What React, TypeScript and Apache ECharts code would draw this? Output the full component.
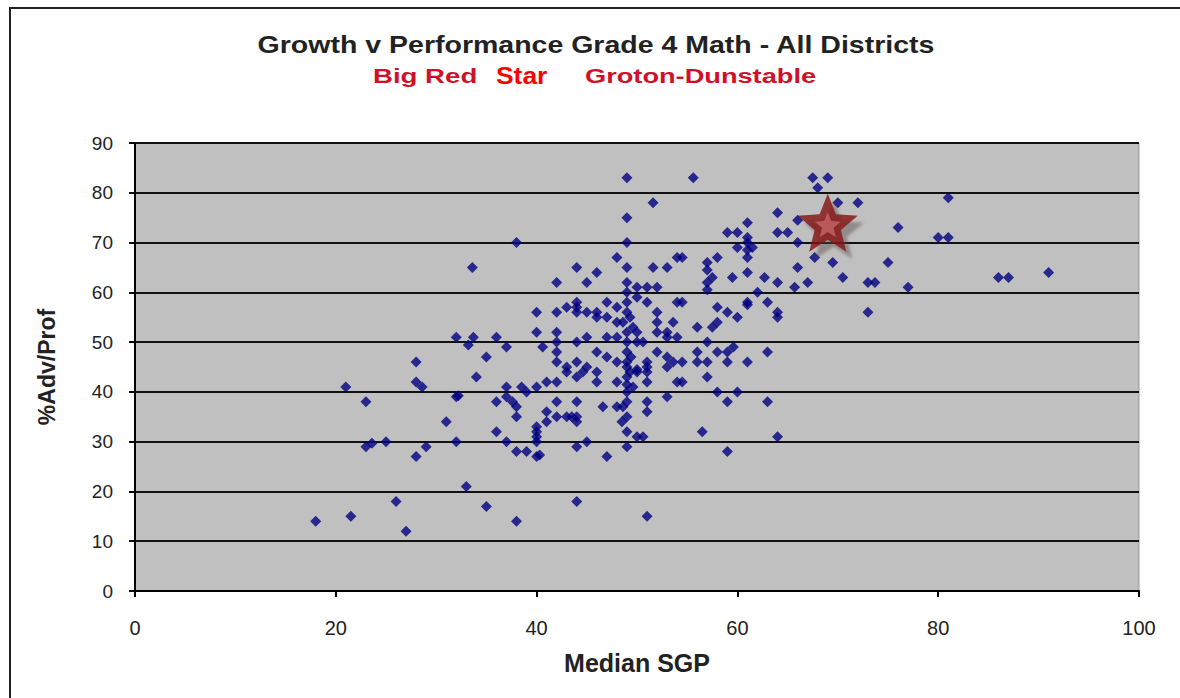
import React, { useEffect, useRef } from "react";
import * as echarts from "echarts";

// [Median SGP, % Advanced/Proficient] for each district
const districts: [number, number][] = [
  [18, 14], [21.5, 15], [27, 12], [26, 18], [35, 17], [38, 14], [44, 18], [51, 15], [33, 21],
  [21, 41], [23, 38], [23, 29], [23.6, 29.7], [25, 30], [28, 46], [28, 42], [28.6, 41], [28, 27], [29, 29],
  [31, 34], [32, 39], [32.2, 39.2], [32, 30], [32, 51], [33.7, 51], [33.2, 49.4], [33.6, 65], [34, 43],
  [35, 47], [36, 51], [36, 38], [36, 32], [37, 49], [38, 70],
  [37, 41], [38.5, 41], [39, 40], [40, 41], [37, 39], [37.6, 38], [38, 37], [38, 35], [40, 33], [41, 34],
  [40, 32], [40, 31], [40, 30], [37, 30], [38, 28], [39, 28], [40, 27], [40.3, 27.3],
  [40, 56], [40, 52], [40.6, 49], [42, 50], [42, 48], [41, 42], [42, 42], [42, 38], [41, 36], [42, 35],
  [43, 35], [43.5, 35], [44, 35], [44, 34],
  [48, 67], [54, 67], [44, 65], [46, 64], [49, 65], [51.6, 65], [53, 65], [42, 62], [45, 62], [49, 62],
  [50, 61], [51, 61], [52, 61], [50, 59], [51, 58], [54, 58],
  [42, 56], [43, 57], [44, 57], [44, 58], [44, 56], [45, 56], [46, 55], [46, 56], [47, 58], [48, 57],
  [49, 56], [47, 55], [48, 54], [48.6, 54], [49.6, 53], [50, 52], [52, 56], [52, 54], [53, 52], [53.6, 54], [42, 52],
  [44, 50], [45, 51], [47, 51], [48, 51], [49, 50], [50, 50], [50.6, 50], [52, 52], [53, 51], [54, 51],
  [46, 48], [47, 47], [48, 46], [42, 46], [43, 45], [44, 46], [44.6, 44], [45, 45], [46, 44], [43, 44],
  [49, 48], [49, 46], [50, 44], [51, 46], [51, 44], [52, 48], [53, 47], [53, 45], [53.6, 46], [51, 45], [49, 45],
  [44, 43], [46, 42], [48, 42], [49, 43], [49.6, 41], [50, 44.5], [51, 42], [54, 42], [53, 39],
  [44, 38], [46.6, 37], [48, 37], [48.6, 37], [49, 38], [49, 35], [48.5, 34], [51, 38], [51, 36],
  [49, 32], [50, 31], [50.6, 31], [44, 29], [45, 30], [49, 29], [47, 27],
  [49, 60], [49, 58], [49.3, 55], [49, 52], [49.4, 47], [49.3, 44], [49, 40], [49, 41.5],
  [49, 83], [55.6, 83], [51.6, 78], [49, 75], [49, 70],
  [67.5, 83], [69, 83], [68, 81], [70, 78], [72, 78], [64, 76], [66, 74.5], [61, 74], [59, 72], [60, 72],
  [61, 71], [61, 70], [64, 72], [65, 72], [66, 70], [60, 69], [61, 68.5], [61.5, 69], [61, 67], [54.5, 67],
  [57, 66], [58, 67], [67.7, 67], [69.5, 66], [57, 64.5], [57.5, 63], [66, 65], [61, 64], [59.5, 63], [62.7, 63],
  [64, 62], [65.7, 61], [67, 62], [70.5, 63], [73, 62], [73.7, 62], [57, 62], [57, 60.5], [62, 60], [61, 58],
  [61, 57.5], [63, 58], [64, 56], [64, 55], [58, 57], [59, 56], [60, 55], [58, 54], [57.5, 53], [56, 53],
  [57, 50], [54.5, 58],
  [58, 48], [59, 48], [59.6, 49], [59, 46], [56, 48], [56, 46], [57, 46], [63, 48], [61, 46], [57, 43],
  [54.5, 46], [54.5, 42], [58, 40], [60, 40], [59, 38], [63, 38], [56.5, 32], [64, 31], [59, 28],
  [81, 79], [76, 73], [80, 71], [81, 71], [75, 66], [77, 61], [86, 63], [87, 63], [91, 64], [73, 56],
];

// Groton-Dunstable, highlighted with the big red star
const grotonDunstable: [number, number][] = [[69, 74]];

const xTicks = { min: 0, max: 100, interval: 20 };
const yTicks = { min: 0, max: 90, interval: 10 };

const titleText = "Growth v Performance Grade 4 Math - All Districts";
const subtitleParts = ["Big Red", "Star", "Groton-Dunstable"];
const xAxisName = "Median SGP";
const yAxisName = "%Adv/Prof";

const STAR =
  "path://M50 0 L62.93 32.2 L97.55 34.55 L70.92 56.8 L79.39 90.45 L50 72 L20.61 90.45 L29.08 56.8 L2.45 34.55 L37.07 32.2 Z";

const FONT = "'Liberation Sans', Arial, sans-serif";

export default function App() {
  const ref = useRef<HTMLDivElement>(null);
  useEffect(() => {
    if (!ref.current) return;
    const chart = echarts.init(ref.current, null, { renderer: "svg" });
    chart.setOption({
      animation: false,
      backgroundColor: "#ffffff",
      textStyle: { fontFamily: FONT },
      graphic: [
        {
          type: "rect",
          shape: { x: 10, y: 8, width: 1200, height: 720 },
          style: { fill: "none", stroke: "#222", lineWidth: 2 },
          z: 0,
        },
        {
          type: "text",
          x: 596,
          y: 45,
          scaleX: 1.24,
          style: {
            text: titleText,
            font: `bold 23px ${FONT}`,
            fill: "#222",
            align: "center",
            verticalAlign: "middle",
          },
        },
        {
          type: "text",
          x: 373,
          y: 76,
          scaleX: 1.38,
          style: {
            text: subtitleParts[0],
            font: `bold 20px ${FONT}`,
            fill: "#d0102a",
            align: "left",
            verticalAlign: "middle",
          },
        },
        {
          type: "text",
          x: 496,
          y: 75,
          scaleX: 1.1,
          style: {
            text: subtitleParts[1],
            font: `bold 24px ${FONT}`,
            fill: "#ff0000",
            align: "left",
            verticalAlign: "middle",
          },
        },
        {
          type: "text",
          x: 585,
          y: 76,
          scaleX: 1.36,
          style: {
            text: subtitleParts[2],
            font: `bold 20px ${FONT}`,
            fill: "#d0102a",
            align: "left",
            verticalAlign: "middle",
          },
        },
      ],
      grid: {
        left: 135,
        right: 41,
        top: 143,
        bottom: 107,
        show: true,
        backgroundColor: "#c0c0c0",
        borderColor: "#9a9a9a",
        borderWidth: 1,
      },
      xAxis: {
        type: "value",
        min: xTicks.min,
        max: xTicks.max,
        interval: xTicks.interval,
        name: xAxisName,
        nameLocation: "middle",
        nameGap: 59,
        nameTextStyle: { fontSize: 25, fontWeight: "bold", color: "#222", fontFamily: FONT },
        axisLine: { show: true, onZero: false, lineStyle: { color: "#000", width: 2 } },
        axisTick: { show: true, inside: false, length: 6, lineStyle: { color: "#000", width: 2 } },
        axisLabel: { fontSize: 20, color: "#222", margin: 27, fontFamily: FONT },
        splitLine: { show: false },
      },
      yAxis: {
        type: "value",
        min: yTicks.min,
        max: yTicks.max,
        interval: yTicks.interval,
        name: yAxisName,
        nameLocation: "middle",
        nameGap: 77,
        nameRotate: 90,
        nameTextStyle: { fontSize: 23, fontWeight: "bold", color: "#222", fontFamily: FONT },
        axisLine: { show: true, onZero: false, lineStyle: { color: "#000", width: 2 } },
        axisTick: { show: true, inside: false, length: 6, lineStyle: { color: "#000", width: 2 } },
        axisLabel: { fontSize: 19, color: "#222", margin: 22, fontFamily: FONT },
        splitLine: { show: true, lineStyle: { color: "#111", width: 2 } },
      },
      series: [
        {
          name: "Districts",
          type: "scatter",
          data: districts,
          symbol: "diamond",
          symbolSize: 11,
          itemStyle: { color: "#000080" },
          z: 2,
        },
        {
          name: "Groton-Dunstable",
          type: "scatter",
          data: grotonDunstable,
          symbol: STAR,
          symbolSize: [60, 58],
          itemStyle: {
            color: "#850c0c",
            shadowColor: "rgba(90,70,70,0.55)",
            shadowBlur: 3,
            shadowOffsetX: 6,
            shadowOffsetY: 7,
          },
          z: 3,
        },
        {
          name: "Groton-Dunstable inner",
          type: "scatter",
          data: grotonDunstable,
          symbol: STAR,
          symbolSize: [26, 25],
          symbolOffset: [0, 2],
          itemStyle: { color: "#c86468" },
          z: 4,
        },
      ],
    });
    return () => chart.dispose();
  }, []);
  return (
    <div
      ref={ref}
      style={{ position: "fixed", left: 0, top: 0, width: 1180, height: 698 }}
    />
  );
}
